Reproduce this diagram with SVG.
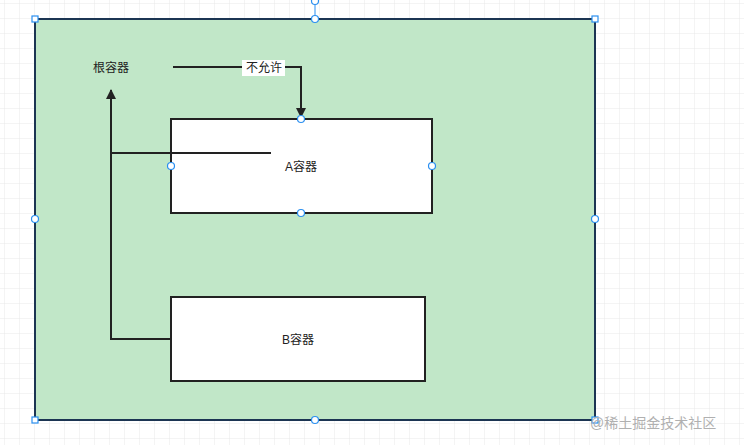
<svg xmlns="http://www.w3.org/2000/svg" width="744" height="445" viewBox="0 0 744 445">
<style>
text{font-family:"Liberation Sans","Noto Sans CJK SC",sans-serif;font-size:12px;fill:#222}
.box{fill:#fff;stroke:#222;stroke-width:2}
.ln{fill:none;stroke:#222;stroke-width:2}
.h{fill:#fff;stroke:#2a8ff0;stroke-width:1.2}
</style>
<defs>
<pattern id="g" width="15" height="15" patternUnits="userSpaceOnUse" x="5" y="4">
<path d="M15 0V15H0" fill="none" stroke="#e8e8e8" stroke-width="1"/>
</pattern>
<marker id="a" viewBox="0 0 10 10" refX="9" refY="5" markerWidth="5" markerHeight="5" orient="auto"><path d="M0 0L10 5L0 10Z" fill="#222"/></marker>
</defs>
<rect width="744" height="445" fill="#fff"/>
<rect width="744" height="445" fill="url(#g)"/>
<g id="root">
<rect x="35" y="19" width="560" height="401" fill="#c1e7c8" stroke="#1c3553" stroke-width="2"/>
<text x="111" y="72" text-anchor="middle">根容器</text>
</g>
<g id="a-box"><rect class="box" x="171" y="119" width="261" height="94"/><text x="301" y="171" text-anchor="middle">A容器</text></g>
<g id="b-box"><rect class="box" x="171" y="297" width="254" height="84"/><text x="298" y="344" text-anchor="middle">B容器</text></g>
<g id="connectors">
<path class="ln" d="M173 67H301V117" marker-end="url(#a)"/>
<rect x="242" y="60" width="43" height="16" fill="#fff"/>
<text x="264" y="72" text-anchor="middle">不允许</text>
<path class="ln" d="M171 339H111V90" marker-end="url(#a)"/>
<path class="ln" d="M111 153H271"/>
</g>
<g id="handles">
<line x1="315" y1="1" x2="315" y2="19" stroke="#2a8ff0"/>
<circle class="h" cx="315" cy="1" r="3.5"/>
<rect class="h" x="32" y="16" width="6" height="6"/><rect class="h" x="592" y="16" width="6" height="6"/>
<rect class="h" x="32" y="417" width="6" height="6"/><rect class="h" x="592" y="417" width="6" height="6"/>
<circle class="h" cx="315" cy="19" r="3.5"/><circle class="h" cx="315" cy="420" r="3.5"/>
<circle class="h" cx="35" cy="219" r="3.5"/><circle class="h" cx="595" cy="219" r="3.5"/>
<circle class="h" cx="301" cy="119" r="3.5"/><circle class="h" cx="301" cy="213" r="3.5"/>
<circle class="h" cx="171" cy="166" r="3.5"/><circle class="h" cx="432" cy="166" r="3.5"/>
</g>
<text x="590" y="428" style="font-size:14px;fill:#b0b0b0">@稀土掘金技术社区</text>
</svg>
